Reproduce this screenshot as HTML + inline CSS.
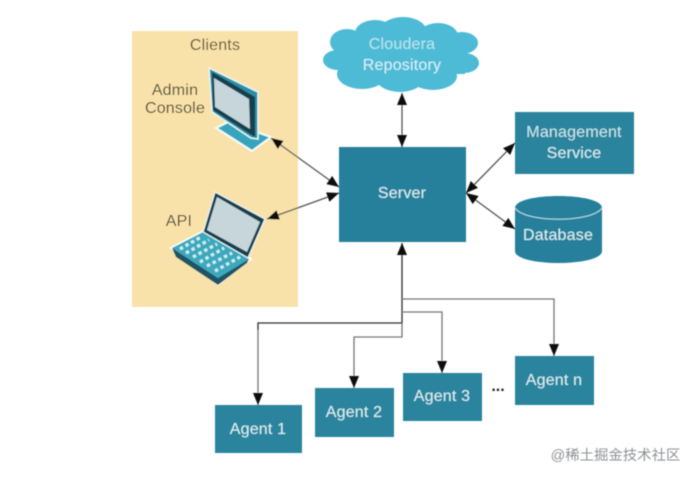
<!DOCTYPE html>
<html><head><meta charset="utf-8"><style>
html,body{margin:0;padding:0;background:#fff}
svg{display:block}
text{font-family:"Liberation Sans",sans-serif;text-anchor:middle;font-size:16px;letter-spacing:.2px}
</style></head><body>
<svg width="696" height="478" viewBox="0 0 696 478" xmlns="http://www.w3.org/2000/svg">
<defs>
<marker id="a" viewBox="0 0 10 10" refX="10" refY="5" markerWidth="12" markerHeight="10" markerUnits="userSpaceOnUse" orient="auto-start-reverse" preserveAspectRatio="none"><path d="M0 0L10 5L0 10z" fill="#0c0c0c"/></marker>
<filter id="b" x="-5%" y="-5%" width="110%" height="110%"><feGaussianBlur stdDeviation="0.55"/></filter>
</defs>
<g filter="url(#b)">
<rect x="132" y="31" width="166" height="276" fill="#f8e2a9"/>
<text x="215" y="50" fill="#5b533c">Clients</text>
<text x="175" y="95" fill="#4f4a38">Admin</text>
<text x="175" y="113" fill="#4f4a38">Console</text>
<text x="179" y="226" fill="#4f4a38">API</text>

<!-- monitor -->
<path d="M216 128L228 122L271 137L252 151z" fill="#35a5bb" stroke="#f4fbfc" stroke-width="2"/>
<path d="M209 68L258 92L258 139L251 138L212 112z" fill="#2c8ea5" stroke="#e6f6f8" stroke-width="1.5"/>
<path d="M212 72L255 97L255 137L250 134L213 110z" fill="#173f4e"/>
<path d="M214 78L249 99L250 129L215 107z" fill="#c6d6db"/>

<!-- laptop -->
<path d="M172 248L203 232L250 259L218 284z" fill="#fff" stroke="#fff" stroke-width="3"/>
<path d="M172 248L203 232L249 259L218 278z" fill="#3aa9bd"/>
<path d="M172 248L218 278L249 259L247 263L218 285L176 257z" fill="#1d5566"/>
<path d="M215 192L265 219L248 258L203 232z" fill="#173f4e" stroke="#e6f6f8" stroke-width="1.2"/>
<path d="M217 197L260 222L247 252L207 230z" fill="#c6d6db"/>
<g stroke="#cdeef3" stroke-width="3.2" stroke-dasharray="3.4 3" fill="none">
<path d="M180 249L201 237"/><path d="M186 253L209 240"/><path d="M193 257L217 244"/><path d="M200 262L224 248"/><path d="M207 266L232 253"/><path d="M215 271L240 257"/>
</g>

<!-- cloud -->
<g fill="#4dbbd5">
<ellipse cx="347" cy="42" rx="17" ry="13"/><ellipse cx="375" cy="33" rx="20" ry="13"/><ellipse cx="403" cy="32" rx="24" ry="15"/><ellipse cx="438" cy="36" rx="20" ry="13"/><ellipse cx="462" cy="43" rx="16" ry="11"/><ellipse cx="464" cy="63" rx="15" ry="10"/><ellipse cx="433" cy="76" rx="24" ry="14"/><ellipse cx="400" cy="78" rx="24" ry="14"/><ellipse cx="362" cy="74" rx="25" ry="15"/><ellipse cx="338" cy="60" rx="15" ry="10"/><rect x="340" y="38" width="125" height="36"/>
</g>
<text x="402" y="49" fill="#b9e5ee">Cloudera</text>
<text x="402" y="70" fill="#d6f1f6">Repository</text>

<!-- boxes -->
<rect x="339" y="147" width="127" height="95" fill="#27809b"/>
<text x="402" y="198" fill="#d8f0f4">Server</text>
<rect x="515" y="112" width="119" height="62" fill="#2a849d"/>
<text x="574" y="137" fill="#c6e6ec">Management</text>
<text x="574" y="158" fill="#d6f0f4">Service</text>
<path d="M515 208C515 192 602 192 602 208V251C602 267 515 267 515 251z" fill="#27809b"/>
<path d="M515 208C525 223 592 223 602 208" fill="none" stroke="#bfe3ea" stroke-width="1"/>
<text x="558" y="240" fill="#d8f0f4">Database</text>

<rect x="215" y="405" width="87" height="48" fill="#2a849d"/>
<text x="258" y="434" fill="#d6f0f4">Agent 1</text>
<rect x="315" y="388" width="79" height="49" fill="#2a849d"/>
<text x="354" y="417" fill="#d6f0f4">Agent 2</text>
<rect x="403" y="373" width="79" height="48" fill="#2a849d"/>
<text x="442" y="401" fill="#d6f0f4">Agent 3</text>
<rect x="515" y="356" width="79" height="49" fill="#2a849d"/>
<text x="554" y="385" fill="#d6f0f4">Agent n</text>
<text x="498" y="391" fill="#222" style="font-weight:bold;letter-spacing:0">...</text>

<!-- connectors -->
<g fill="none" stroke="#555" stroke-width="1.3">
<path d="M402 93V147" marker-start="url(#a)" marker-end="url(#a)"/>
<path d="M271 138L339 187" marker-start="url(#a)" marker-end="url(#a)"/>
<path d="M267 219L339 193" marker-start="url(#a)" marker-end="url(#a)"/>
<path d="M466 193L515 143" marker-start="url(#a)" marker-end="url(#a)"/>
<path d="M466 193L515 229" marker-start="url(#a)" marker-end="url(#a)"/>
<path d="M402 243V323H258V330" stroke="#333" marker-start="url(#a)"/>
<path d="M258 330V405" stroke="#777" marker-end="url(#a)"/>
<path d="M402 323V337H354V388" stroke="#777" marker-end="url(#a)"/>
<path d="M402 312H442V373" stroke="#777" marker-end="url(#a)"/>
<path d="M402 299H554V356" stroke="#777" marker-end="url(#a)"/>
</g>
<text x="615.500" y="460" fill="#8f9296" style="font-family:'Liberation Sans','Noto Sans CJK SC',sans-serif;font-size:14.400px;letter-spacing:0">@稀土掘金技术社区</text>
</g>
</svg>
</body></html>
